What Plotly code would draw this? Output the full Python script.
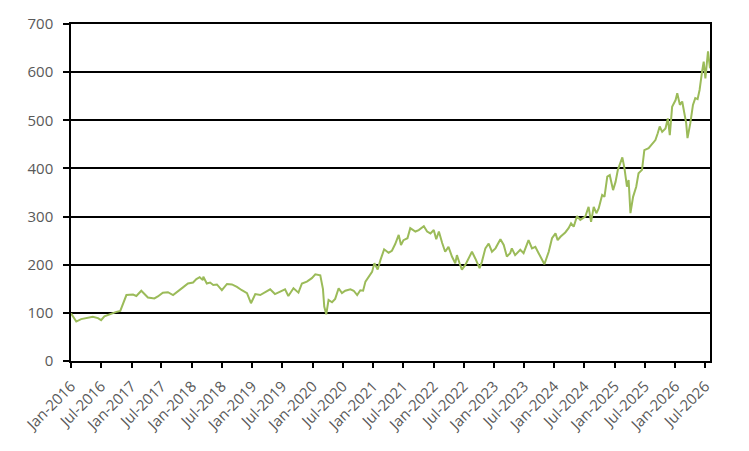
import plotly.graph_objects as go

dates = [
    "2016-01-01", "2016-02-02", "2016-03-02", "2016-04-02", "2016-05-12", "2016-06-12",
    "2016-07-01", "2016-07-21", "2016-09-01", "2016-10-01", "2016-10-25", "2016-11-10",
    "2016-12-01", "2017-01-10", "2017-01-30", "2017-03-01", "2017-04-10", "2017-05-19",
    "2017-06-09", "2017-07-09", "2017-08-09", "2017-09-09", "2017-10-09", "2017-11-08",
    "2017-12-08", "2018-01-08", "2018-01-28", "2018-02-17", "2018-03-08", "2018-03-11",
    "2018-04-01", "2018-04-21", "2018-05-10", "2018-06-01", "2018-07-01", "2018-08-01",
    "2018-08-31", "2018-09-30", "2018-10-30", "2018-11-30", "2018-12-24", "2019-01-19",
    "2019-02-18", "2019-03-19", "2019-04-19", "2019-05-18", "2019-06-18", "2019-07-18",
    "2019-08-07", "2019-09-07", "2019-10-07", "2019-10-28", "2019-11-27", "2019-12-27",
    "2020-01-17", "2020-02-16", "2020-03-03", "2020-03-11", "2020-03-23", "2020-04-06",
    "2020-04-27", "2020-05-16", "2020-06-06", "2020-06-26", "2020-07-16", "2020-08-16",
    "2020-09-05", "2020-09-26", "2020-10-15", "2020-11-01", "2020-11-15", "2020-12-05",
    "2020-12-25", "2021-01-08", "2021-01-28", "2021-02-14", "2021-03-08", "2021-04-04",
    "2021-04-24", "2021-05-14", "2021-06-04", "2021-06-18", "2021-07-03", "2021-07-27",
    "2021-08-13", "2021-09-13", "2021-10-03", "2021-11-03", "2021-11-23", "2021-12-13",
    "2022-01-02", "2022-01-17", "2022-02-02", "2022-02-22", "2022-03-12", "2022-04-01",
    "2022-04-22", "2022-05-12", "2022-05-22", "2022-06-07", "2022-06-21", "2022-07-11",
    "2022-08-01", "2022-08-21", "2022-09-10", "2022-10-06", "2022-10-20", "2022-11-10",
    "2022-11-30", "2022-12-20", "2023-01-10", "2023-02-09", "2023-03-01", "2023-03-20",
    "2023-04-09", "2023-04-19", "2023-05-09", "2023-06-09", "2023-06-29", "2023-07-29",
    "2023-08-19", "2023-09-08", "2023-09-28", "2023-11-02", "2023-11-28", "2023-12-18",
    "2024-01-08", "2024-01-21", "2024-02-07", "2024-03-07", "2024-03-27", "2024-04-11",
    "2024-04-27", "2024-05-17", "2024-06-06", "2024-07-06", "2024-07-26", "2024-08-10",
    "2024-08-26", "2024-09-11", "2024-09-25", "2024-10-16", "2024-10-30", "2024-11-16",
    "2024-12-01", "2024-12-21", "2025-01-05", "2025-01-19", "2025-02-15", "2025-02-28",
    "2025-03-15", "2025-03-25", "2025-04-05", "2025-04-21", "2025-05-10", "2025-05-24",
    "2025-06-14", "2025-06-28", "2025-07-24", "2025-08-14", "2025-09-03", "2025-09-17",
    "2025-09-29", "2025-10-14", "2025-11-03", "2025-11-17", "2025-11-29", "2025-12-13",
    "2026-01-03", "2026-01-13", "2026-01-29", "2026-02-12", "2026-02-26", "2026-03-08",
    "2026-03-16", "2026-04-02", "2026-04-18", "2026-05-02", "2026-05-16", "2026-05-28",
    "2026-06-12", "2026-06-22", "2026-07-02", "2026-07-12", "2026-07-18", "2026-07-30",
]

values = [
    99, 82, 87, 89, 92, 89,
    85, 93, 99, 102, 104, 120,
    137, 138, 135, 146, 132, 130,
    134, 142, 143, 137, 146, 153,
    161, 163, 170, 174, 168, 175,
    161, 163, 158, 159, 147, 160,
    159, 154, 147, 141, 120, 139,
    137, 142, 149, 139, 144, 149,
    135, 151, 142, 161, 165, 172,
    180, 178, 150, 113, 97, 127,
    122, 129, 151, 141, 146, 149,
    146, 137, 147, 146, 165, 175,
    185, 203, 190, 210, 232, 225,
    229, 243, 262, 241, 251, 255,
    276, 269, 272, 280, 269, 265,
    272, 253, 269, 245, 227, 237,
    217, 203, 220, 203, 190, 199,
    215, 227, 213, 193, 206, 234,
    244, 227, 234, 253, 241, 217,
    224, 234, 220, 231, 224, 251,
    234, 237, 224, 201, 227, 255,
    265, 251, 258, 267, 276, 286,
    279, 301, 293, 300, 320, 289,
    320, 307, 317, 345, 341, 383,
    386, 355, 372, 397, 423, 400,
    362, 376, 307, 341, 362, 390,
    397, 438, 442, 452, 459, 473,
    487, 476, 483, 504, 469, 528,
    542, 556, 532, 539, 511, 494,
    463, 494, 532, 546, 544, 563,
    601, 622, 587, 615, 643, 608,
]

y_ticks = [0, 100, 200, 300, 400, 500, 600, 700]

fig = go.Figure()
fig.add_trace(go.Scatter(
    x=dates, y=values, mode="lines",
    line=dict(color="#9BBB59", width=2),
    showlegend=False,
))

tick_font = dict(family="Open Sans, Liberation Sans, sans-serif", size=15, color="#595959")

fig.update_layout(
    width=741, height=443,
    margin=dict(l=63, r=39, t=16, b=90, autoexpand=False),
    paper_bgcolor="white", plot_bgcolor="white",
    xaxis=dict(
        type="date",
        range=[dates[0], dates[-1]],
        tick0="2016-01-01", dtick="M6", tickformat="%b-%Y",
        tickangle=-45, tickfont=tick_font,
        showgrid=False, showline=True, linecolor="black", linewidth=1.5,
        ticks="outside", ticklen=5, tickcolor="black", tickwidth=1.5,
        mirror=True, ticklabelstandoff=4,
    ),
    yaxis=dict(
        range=[0, 700], tickvals=y_ticks, tickfont=tick_font,
        showgrid=True, gridcolor="black", gridwidth=1.5,
        showline=True, linecolor="black", linewidth=1.5,
        ticks="outside", ticklen=6, tickcolor="black", tickwidth=1.5,
        mirror=True, zeroline=False, ticklabelstandoff=7,
    ),
)

fig.write_html("out.html")
